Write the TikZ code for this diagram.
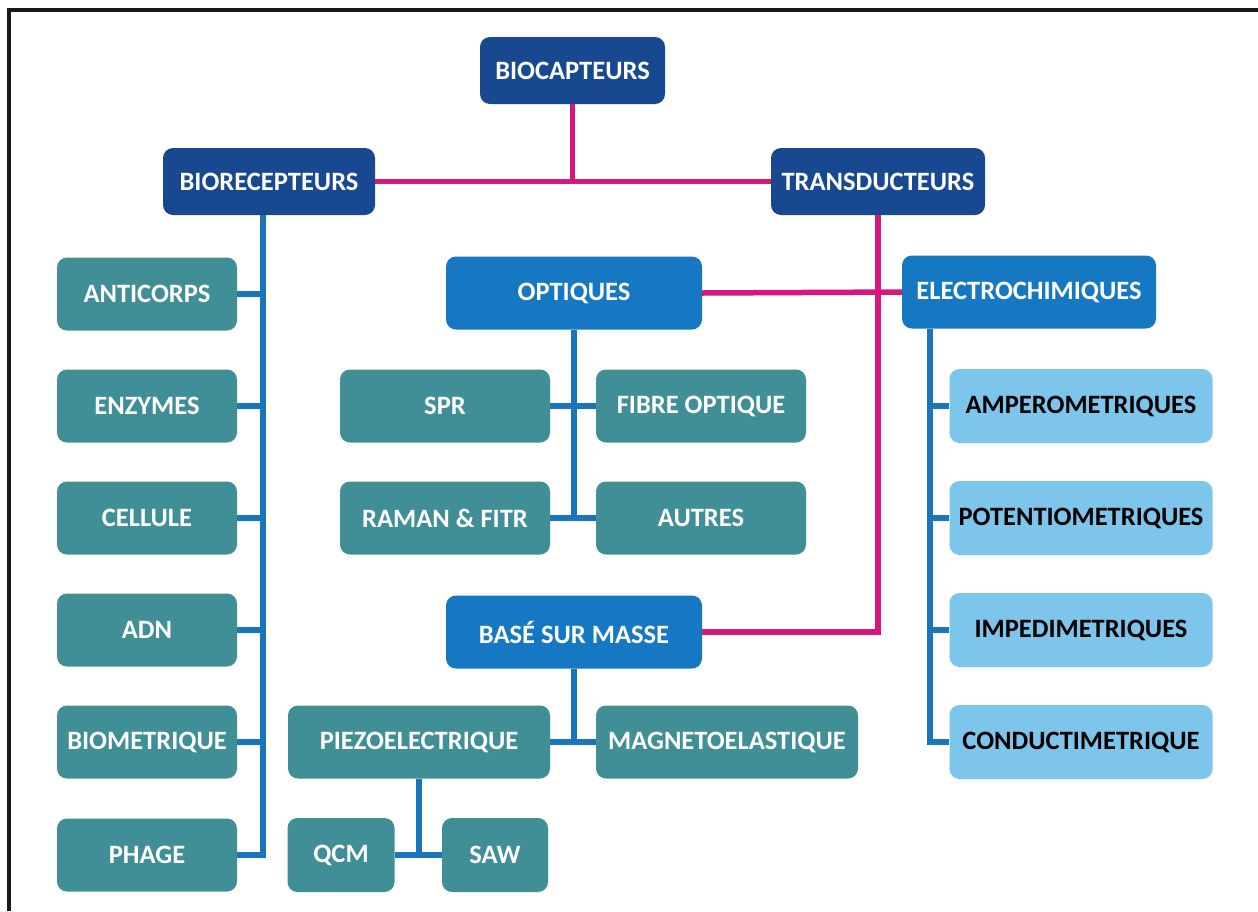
\documentclass[tikz,border=0pt]{standalone}
\usepackage{fontspec}
\setmainfont{Carlito}
\definecolor{navy}{RGB}{24,72,143}
\definecolor{midblue}{RGB}{22,120,194}
\definecolor{teal2}{RGB}{64,143,151}
\definecolor{lightb}{RGB}{126,197,236}
\definecolor{pinkc}{RGB}{214,24,125}
\definecolor{linkblue}{RGB}{27,117,187}
\tikzset{
  boxbase/.style={rounded corners=10pt, inner sep=0pt, font=\fontsize{26.5}{30}\selectfont\bfseries, text=white},
  navybox/.style={boxbase, fill=navy},
  midbox/.style={boxbase, fill=midblue, minimum width=256pt, minimum height=73pt},
  tealbox/.style={boxbase, fill=teal2, minimum height=73pt},
  lightbox/.style={boxbase, fill=lightb, text=black, minimum width=263pt, minimum height=74pt},
  pinkline/.style={draw=pinkc, line width=5.5pt},
  blueline/.style={draw=linkblue, line width=5.5pt},
}
\begin{document}
\begin{tikzpicture}[x=1pt,y=-1pt]
\useasboundingbox (0,0) rectangle (1258,911);
\fill[white] (0,0) rectangle (1258,911);
\draw[line width=4pt, black!90] (9,911) -- (9,10) -- (1258,10);

% top level
\node[navybox, minimum width=185pt, minimum height=67pt] (bio) at (572.5,70.5) {BIOCAPTEURS};
\node[navybox, minimum width=212pt, minimum height=67pt] (brec) at (269,181.5) {BIORECEPTEURS};
\node[navybox, minimum width=214pt, minimum height=67pt] (trans) at (878,181.5) {TRANSDUCTEURS};

% second level
\node[midbox] (opt) at (574,293) {OPTIQUES};
\node[midbox, minimum width=254pt] (elec) at (1029,292) {ELECTROCHIMIQUES};
\node[midbox] (masse) at (574,632) {BASÉ SUR MASSE};

% left column
\node[tealbox, minimum width=180pt] (anti) at (147,294) {ANTICORPS};
\node[tealbox, minimum width=180pt] (enz) at (147,406) {ENZYMES};
\node[tealbox, minimum width=180pt] (cell) at (147,518) {CELLULE};
\node[tealbox, minimum width=180pt] (adn) at (147,630) {ADN};
\node[tealbox, minimum width=180pt] (biom) at (147,742) {BIOMETRIQUE};
\node[tealbox, minimum width=180pt] (phage) at (147,855) {PHAGE};

% optiques children
\node[tealbox, minimum width=210pt] (spr) at (445,406) {SPR};
\node[tealbox, minimum width=210pt] (fibre) at (701,406) {FIBRE OPTIQUE};
\node[tealbox, minimum width=210pt] (raman) at (445,518) {RAMAN \& FITR};
\node[tealbox, minimum width=210pt] (autres) at (701,518) {AUTRES};

% masse children
\node[tealbox, minimum width=262pt] (piezo) at (419,742) {PIEZOELECTRIQUE};
\node[tealbox, minimum width=262pt] (magneto) at (727,742) {MAGNETOELASTIQUE};
\node[tealbox, minimum width=107pt, minimum height=74pt] (qcm) at (341,855) {QCM};
\node[tealbox, minimum width=106pt, minimum height=74pt] (saw) at (495,855) {SAW};

% electrochimiques children
\node[lightbox] (amp) at (1081,406) {AMPEROMETRIQUES};
\node[lightbox] (pot) at (1081,518) {POTENTIOMETRIQUES};
\node[lightbox] (imp) at (1081,630) {IMPEDIMETRIQUES};
\node[lightbox] (cond) at (1081,742) {CONDUCTIMETRIQUE};

% pink connectors
\draw[pinkline] (bio.south) -- (bio.south |- brec);
\draw[pinkline] (brec.east) -- (trans.west);
\draw[pinkline] (trans.south) -- (trans.south |- masse) -- (masse.east);
\draw[pinkline] (opt.east) -- (elec.west);

% blue connectors: biorecepteurs
\coordinate (b0) at ([xshift=-6pt]brec.south);
\draw[blueline] (b0) -- (b0 |- phage) -- (phage.east);
\foreach \n in {anti,enz,cell,adn,biom}{
  \draw[blueline] (\n.east) -- (\n -| b0);
}

% optiques
\draw[blueline] (opt.south) -- (opt.south |- raman);
\draw[blueline] (spr.east) -- (fibre.west);
\draw[blueline] (raman.east) -- (autres.west);

% masse
\draw[blueline] (masse.south) -- (masse.south |- piezo);
\draw[blueline] (piezo.east) -- (magneto.west);
\draw[blueline] (piezo.south) -- (piezo.south |- qcm);
\draw[blueline] (qcm.east) -- (saw.west);

% electrochimiques
\coordinate (e0) at ([xshift=28pt]elec.south west);
\draw[blueline] (e0) -- (e0 |- cond) -- (cond.west);
\foreach \n in {amp,pot,imp}{
  \draw[blueline] (\n -| e0) -- (\n.west);
}
\end{tikzpicture}
\end{document}
